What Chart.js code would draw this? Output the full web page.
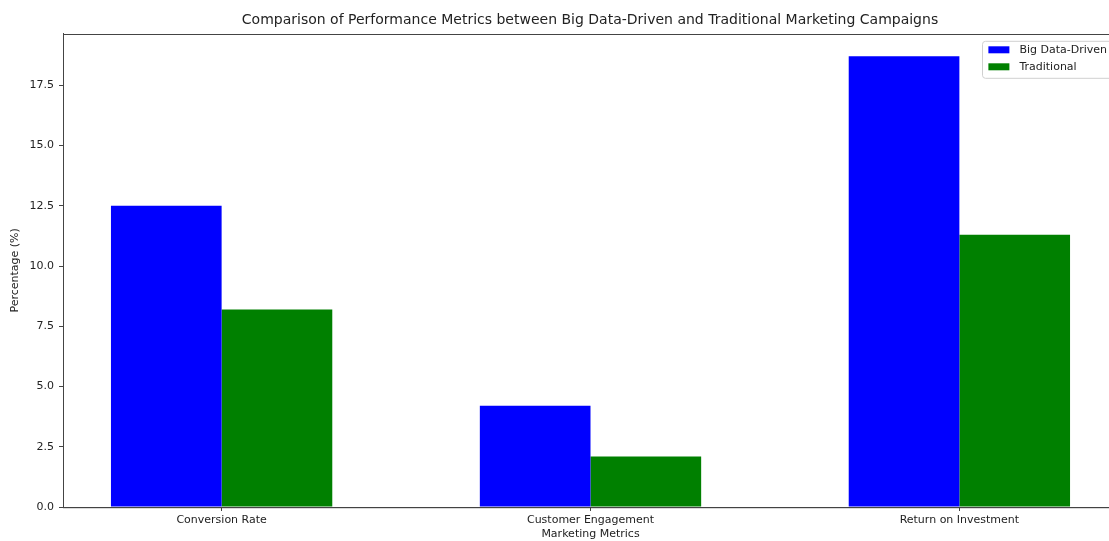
<!DOCTYPE html>
<html>
<head>
<meta charset="utf-8">
<script src="https://cdn.jsdelivr.net/npm/chart.js@4.4.1/dist/chart.umd.min.js"></script>
<style>
  html, body { margin: 0; padding: 0; background: #fff; overflow: hidden; }
  #wrap { width: 1180px; height: 541px; }
</style>
</head>
<body>
<div id="wrap"><canvas id="chart" width="1180" height="541"></canvas></div>
<script>
// data
const categories = ['Conversion Rate', 'Customer Engagement', 'Return on Investment'];
const bigData = [12.5, 4.2, 18.7];
const traditional = [8.2, 2.1, 11.3];
const yTicks = [0, 2.5, 5, 7.5, 10, 12.5, 15, 17.5];

const FONT = 'DejaVu Sans';
const AXIS = '#444';

// matplotlib style frame (top + right spines)
const framePlugin = {
    id: 'frame',
    afterDraw: function (chart) {
        const a = chart.chartArea;
        const ctx = chart.ctx;
        ctx.save();
        ctx.strokeStyle = AXIS;
        ctx.lineWidth = 1;
        ctx.strokeRect(Math.round(a.left) + 0.5, Math.round(a.top) + 0.5, a.right - a.left, a.bottom - a.top);
        ctx.restore();
    }
};

// legend box in the upper right of the axes
const boxLegend = {
    id: 'boxLegend',
    afterDraw: function (chart) {
        const a = chart.chartArea;
        const ctx = chart.ctx;
        const sets = chart.data.datasets;
        ctx.save();
        ctx.font = '11px "' + FONT + '"';
        let tw = 0;
        sets.forEach(function (d) { tw = Math.max(tw, ctx.measureText(d.label).width); });
        const w = 6 + 21 + 10 + tw + 6;
        const rowH = 17;
        const h = 9 + rowH * (sets.length - 1) + 11;
        const x = a.right - 5 - w;
        const y = a.top + 7;
        ctx.fillStyle = 'rgba(255,255,255,0.8)';
        ctx.strokeStyle = '#d0d0d0';
        ctx.lineWidth = 1;
        ctx.beginPath();
        ctx.roundRect(Math.round(x) + 0.5, y + 0.5, w, h, 3);
        ctx.fill();
        ctx.stroke();
        sets.forEach(function (d, i) {
            const cy = y + 9 + i * rowH;
            ctx.fillStyle = d.backgroundColor;
            ctx.fillRect(x + 6, cy - 3.5, 21, 7);
            ctx.fillStyle = '#222';
            ctx.textBaseline = 'middle';
            ctx.fillText(d.label, x + 6 + 21 + 10, cy);
        });
        ctx.restore();
    }
};

new Chart(document.getElementById('chart'), {
    type: 'bar',
    data: {
        datasets: [{
            label: 'Big Data-Driven',
            data: categories.map(function (c, i) { return { x: i, y: bigData[i] }; }),
            backgroundColor: '#0000ff',
            borderWidth: 0
        }, {
            label: 'Traditional',
            data: categories.map(function (c, i) { return { x: i, y: traditional[i] }; }),
            backgroundColor: '#008000',
            borderWidth: 0
        }]
    },
    options: {
        responsive: false,
        animation: false,
        devicePixelRatio: 1,
        categoryPercentage: 0.6,
        barPercentage: 1.0,
        layout: { padding: 0 },
        plugins: {
            legend: { display: false },
            tooltip: { enabled: false },
            title: {
                display: true,
                text: 'Comparison of Performance Metrics between Big Data-Driven and Traditional Marketing Campaigns',
                color: '#222',
                font: { family: FONT, size: 14, weight: 'normal' },
                padding: { top: 12, bottom: 5 }
            }
        },
        scales: {
            x: {
                type: 'linear',
                offset: false,
                min: -0.43,
                max: 2.43,
                afterBuildTicks: function (scale) {
                    scale.ticks = categories.map(function (c, i) { return { value: i }; });
                },
                afterFit: function (scale) { scale.height = 34; },
                ticks: {
                    autoSkip: false,
                    maxRotation: 0,
                    padding: 3,
                    color: '#222',
                    font: { family: FONT, size: 11 },
                    callback: function (v) { return categories[v]; }
                },
                grid: { display: true, offset: false, drawOnChartArea: false, drawTicks: true, tickLength: 4, color: AXIS },
                border: { display: true, color: AXIS },
                title: {
                    display: true,
                    text: 'Marketing Metrics',
                    color: '#222',
                    font: { family: FONT, size: 11 },
                    padding: { top: 0, bottom: 0 }
                }
            },
            y: {
                position: 'left',
                min: 0,
                max: 19.635,
                afterBuildTicks: function (scale) {
                    scale.ticks = yTicks.map(function (v) { return { value: v }; });
                },
                afterFit: function (scale) { scale.width = 63; },
                ticks: {
                    padding: 5,
                    color: '#222',
                    font: { family: FONT, size: 11 },
                    callback: function (v) { return Number(v).toFixed(1); }
                },
                grid: { display: true, drawOnChartArea: false, drawTicks: true, tickLength: 4, color: AXIS },
                border: { display: true, color: AXIS },
                title: {
                    display: true,
                    text: 'Percentage (%)',
                    color: '#222',
                    font: { family: FONT, size: 11 },
                    padding: { top: 9, bottom: 0 }
                }
            },
            // empty right-hand box so the plot ends where the reference does
            yR: {
                position: 'right',
                display: true,
                afterFit: function (scale) { scale.width = 62; },
                ticks: { display: false },
                grid: { display: false },
                border: { display: false }
            }
        }
    },
    plugins: [framePlugin, boxLegend]
});
</script>
</body>
</html>
